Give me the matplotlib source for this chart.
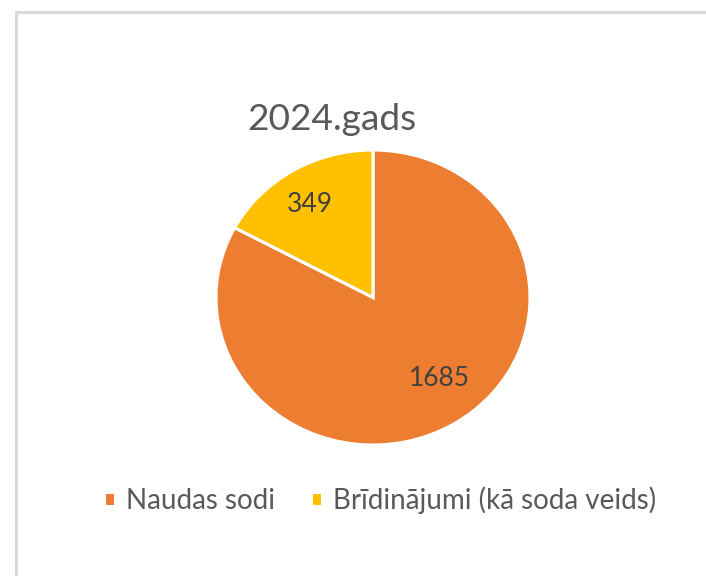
import matplotlib
matplotlib.use("Agg")
import matplotlib.pyplot as plt
from matplotlib.patches import Rectangle

categories = ["Naudas sodi", "Brīdinājumi (kā soda veids)"]
values = [1685, 349]
colors = ["#ED7D31", "#FFC000"]
title = "2024.gads"

W, H = 706, 576
fig = plt.figure(figsize=(W / 100, H / 100), dpi=100)
fig.patch.set_facecolor("white")

# chart frame (left & top visible)
fig.patches.append(Rectangle((16 / W, -0.1), 2.0, 1.1 - 12 / H, transform=fig.transFigure,
                             fill=False, edgecolor="#d9d9d9", linewidth=2.2))

# pie axes positioned in pixels
x0, x1, y0, y1 = 216, 530, 150, 445
ax = fig.add_axes([x0 / W, (H - y1) / H, (x1 - x0) / W, (y1 - y0) / H])
wedges, _ = ax.pie(values, colors=colors, startangle=90, counterclock=False,
                   wedgeprops=dict(edgecolor="white", linewidth=2.2))
ax.set_aspect("auto")
ax.set_xlim(-1.0, 1.0)
ax.set_ylim(-1.0, 1.0)
ax.axis("off")

font = "Lato"
# data labels
label_pos = [(439, 379), (310, 204)]
for (px, py), v in zip(label_pos, values):
    fig.text(px / W, 1 - py / H, str(v), ha="center", va="center",
             fontsize=19, color="#404040", family=font)

fig.text(332 / W, 1 - 120 / H, title, ha="center", va="center",
         fontsize=26.7, color="#595959", family=font)

leg = fig.legend(wedges, categories, loc="center", bbox_to_anchor=(380 / W, 1 - 500 / H),
                 ncol=2, frameon=False, handlelength=0.4, handleheight=0.4,
                 handletextpad=0.4, columnspacing=1.3,
                 prop=dict(family=font, size=20))
for t in leg.get_texts():
    t.set_color("#595959")

fig.savefig("out.png", dpi=100)
